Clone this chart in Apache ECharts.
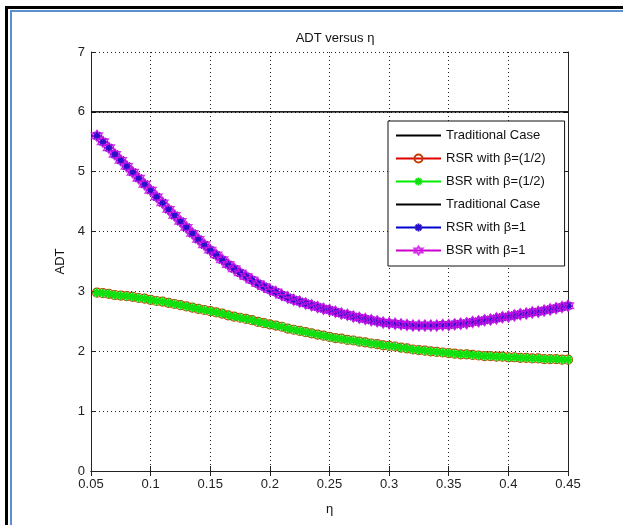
<!DOCTYPE html>
<html>
<head>
<meta charset="utf-8">
<script src="https://cdn.jsdelivr.net/npm/echarts@6/dist/echarts.min.js"></script>
<style>
html,body{margin:0;padding:0;background:#fff;}
#c{width:623px;height:525px;}
</style>
</head>
<body>
<div id="c"></div>
<script>
// ---- data ----
var eta = [0.055,0.060,0.065,0.070,0.075,0.080,0.085,0.090,0.095,0.100,
0.105,0.110,0.115,0.120,0.125,0.130,0.135,0.140,0.145,0.150,
0.155,0.160,0.165,0.170,0.175,0.180,0.185,0.190,0.195,0.200,
0.205,0.210,0.215,0.220,0.225,0.230,0.235,0.240,0.245,0.250,
0.255,0.260,0.265,0.270,0.275,0.280,0.285,0.290,0.295,0.300,
0.305,0.310,0.315,0.320,0.325,0.330,0.335,0.340,0.345,0.350,
0.355,0.360,0.365,0.370,0.375,0.380,0.385,0.390,0.395,0.400,
0.405,0.410,0.415,0.420,0.425,0.430,0.435,0.440,0.445,0.450];

var adtHalf = [2.98,2.97,2.96,2.94,2.93,2.92,2.91,2.89,2.88,2.86,
2.84,2.83,2.81,2.79,2.77,2.75,2.73,2.71,2.69,2.67,
2.65,2.63,2.60,2.58,2.56,2.54,2.52,2.49,2.47,2.45,
2.43,2.41,2.38,2.36,2.34,2.32,2.30,2.28,2.26,2.24,
2.22,2.21,2.19,2.18,2.16,2.15,2.13,2.12,2.10,2.09,
2.08,2.06,2.05,2.03,2.02,2.01,2.00,1.99,1.98,1.97,
1.96,1.95,1.95,1.94,1.93,1.92,1.92,1.91,1.91,1.90,
1.90,1.89,1.89,1.88,1.88,1.87,1.87,1.87,1.86,1.86];

var adtOne = [5.60,5.50,5.40,5.29,5.19,5.09,4.99,4.89,4.79,4.69,
4.58,4.48,4.37,4.27,4.17,4.07,3.97,3.87,3.78,3.69,
3.61,3.53,3.45,3.38,3.31,3.25,3.19,3.13,3.08,3.03,
2.99,2.94,2.90,2.86,2.83,2.80,2.77,2.74,2.71,2.69,
2.66,2.63,2.61,2.58,2.56,2.54,2.52,2.50,2.48,2.47,
2.46,2.45,2.44,2.43,2.43,2.43,2.43,2.43,2.44,2.44,
2.45,2.46,2.47,2.49,2.50,2.52,2.53,2.55,2.57,2.58,
2.60,2.62,2.63,2.65,2.66,2.68,2.70,2.72,2.74,2.76];

var traditionalEta = [0.05, 0.45];
var traditionalADT = [6, 6];

var legendNames = ['Traditional Case','RSR with β=(1/2)','BSR with β=(1/2)','Traditional Case ','RSR with β=1','BSR with β=1'];
var legendLabels = ['Traditional Case','RSR with β=(1/2)','BSR with β=(1/2)','Traditional Case','RSR with β=1','BSR with β=1'];

var titleText = 'ADT versus η';
var xName = 'η';
var yName = 'ADT';

function pairs(xs, ys){ return xs.map(function(x,i){ return [x, ys[i]]; }); }

var asterisk = 'path://M5,0L5,10M0,5L10,5M1.5,1.5L8.5,8.5M1.5,8.5L8.5,1.5';
var hexagram = 'path://M5,0L6.44,2.5L9.33,2.5L7.89,5L9.33,7.5L6.44,7.5L5,10L3.56,7.5L0.67,7.5L2.11,5L0.67,2.5L3.56,2.5Z';

var font = '"Liberation Sans", Arial, sans-serif';

var chart = echarts.init(document.getElementById('c'), null, {renderer:'canvas'});

var gridLine = {show:true, lineStyle:{color:'#222', type:[1,3], width:1}};

var legendData = legendNames.map(function(n, i){
  var item = {name:n};
  if (i === 0 || i === 3) item.itemStyle = {opacity:0};
  return item;
});

chart.setOption({
  animation:false,
  backgroundColor:'#fff',
  title:{text:titleText, left:330, top:27, textAlign:'center',
    textStyle:{fontFamily:font, fontSize:13, fontWeight:'normal', color:'#111'}},
  grid:{left:91, right:55, top:52, bottom:54, containLabel:false},
  legend:{
    orient:'vertical', left:388, top:121,
    data:legendData,
    formatter:function(n){ return legendLabels[legendNames.indexOf(n)]; },
    itemWidth:45, itemHeight:10, itemGap:10,
    padding:[8,19,9,7],
    backgroundColor:'#fff', borderColor:'#111', borderWidth:1, borderRadius:0,
    textStyle:{fontFamily:font, fontSize:13, color:'#111'}
  },
  xAxis:[{
    type:'value', position:'bottom', min:0.05, max:0.45, interval:0.05,
    name:xName, nameLocation:'middle', nameGap:32,
    nameTextStyle:{fontFamily:font, fontSize:13, color:'#111'},
    axisLine:{show:true, lineStyle:{color:'#222', width:1}},
    axisTick:{show:true, inside:true, length:5, lineStyle:{color:'#222'}},
    axisLabel:{fontFamily:font, fontSize:13, color:'#222', margin:7,
      formatter:function(v){ return String(+v.toFixed(2)); }},
    splitLine:gridLine
  },{
    type:'value', position:'top', min:0.05, max:0.45, interval:0.05,
    axisLine:{show:true, lineStyle:{color:'#222', width:1}},
    axisTick:{show:true, inside:true, length:5, lineStyle:{color:'#222'}},
    axisLabel:{show:false}, splitLine:{show:false}
  }],
  yAxis:[{
    type:'value', position:'left', min:0, max:7, interval:1,
    name:yName, nameLocation:'middle', nameGap:19, nameRotate:90,
    nameTextStyle:{fontFamily:font, fontSize:13, color:'#111'},
    axisLine:{show:true, lineStyle:{color:'#222', width:1}},
    axisTick:{show:true, inside:true, length:5, lineStyle:{color:'#222'}},
    axisLabel:{fontFamily:font, fontSize:13, color:'#222', margin:6},
    splitLine:gridLine
  },{
    type:'value', position:'right', min:0, max:7, interval:1,
    axisLine:{show:true, lineStyle:{color:'#222', width:1}},
    axisTick:{show:true, inside:true, length:5, lineStyle:{color:'#222'}},
    axisLabel:{show:false}, splitLine:{show:false}
  }],
  series:[
    {name:legendNames[0], type:'line', data:pairs(traditionalEta, traditionalADT),
     symbol:'none', lineStyle:{color:'#000', width:1}, itemStyle:{color:'#000'}},
    {name:legendNames[1], type:'line', data:pairs(eta, adtHalf),
     symbol:'circle', symbolSize:9, showAllSymbol:true,
     lineStyle:{color:'#e00000', width:1},
     itemStyle:{color:'rgba(0,0,0,0)', borderColor:'#c04000', borderWidth:1.2}},
    {name:legendNames[2], type:'line', data:pairs(eta, adtHalf),
     symbol:asterisk, symbolSize:9, showAllSymbol:true,
     lineStyle:{color:'#00ee00', width:1},
     itemStyle:{color:'#00e000', borderColor:'#10e010', borderWidth:2}},
    {name:legendNames[3], type:'line', data:pairs(traditionalEta, traditionalADT),
     symbol:'none', lineStyle:{color:'#000', width:1}, itemStyle:{color:'#000'}},
    {name:legendNames[4], type:'line', data:pairs(eta, adtOne),
     symbol:asterisk, symbolSize:10, showAllSymbol:true,
     lineStyle:{color:'#0000cc', width:1},
     itemStyle:{color:'#2a10c8', borderColor:'#2a10c8', borderWidth:2.2}},
    {name:legendNames[5], type:'line', data:pairs(eta, adtOne),
     symbol:hexagram, symbolSize:11, showAllSymbol:true,
     lineStyle:{color:'#cc00cc', width:1},
     itemStyle:{color:'rgba(0,0,0,0)', borderColor:'#d010e8', borderWidth:1.4, opacity:0.85}}
  ],
  graphic:[
    {type:'rect', shape:{x:5, y:6, width:618, height:3}, style:{fill:'#000'}, z:100},
    {type:'rect', shape:{x:5, y:6, width:3, height:519}, style:{fill:'#000'}, z:100},
    {type:'rect', shape:{x:10, y:10, width:613, height:2}, style:{fill:'#5b8fd0'}, z:100},
    {type:'rect', shape:{x:10, y:10, width:2, height:515}, style:{fill:'#5b8fd0'}, z:100}
  ]
});
</script>
</body>
</html>
